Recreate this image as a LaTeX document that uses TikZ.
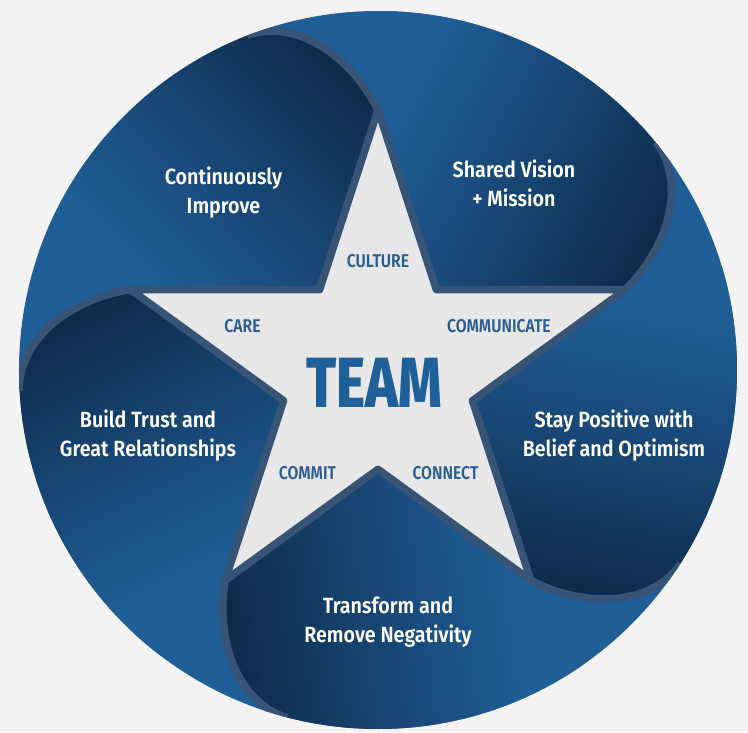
\documentclass[tikz,border=0pt]{standalone}
\usepackage{fontspec}
\setmainfont{Fira Sans}
\newfontfamily\labfont{Fira Sans}[UprightFont=* SemiBold, FakeStretch=0.895]
\newfontfamily\capfont{Fira Sans}[UprightFont=* SemiBold, FakeStretch=0.85]
\newfontfamily\teamfont{Fira Sans}[UprightFont=* ExtraBold, FakeStretch=0.78]
\definecolor{bgray}{HTML}{F3F3F3}
\definecolor{baseblue}{HTML}{1F5E96}
\definecolor{darkblue}{HTML}{0C2440}
\definecolor{midblue}{HTML}{16426E}
\definecolor{slate}{HTML}{375477}
\definecolor{starfill}{HTML}{E8E8E8}
\definecolor{startext}{HTML}{2A5D93}
\definecolor{teamblue}{HTML}{1F5F9A}
\pgfdeclareverticalshading{flapshade}{100bp}{color(0bp)=(darkblue); color(25bp)=(darkblue); color(45bp)=(midblue); color(65bp)=(baseblue); color(100bp)=(baseblue)}
\tikzset{
  flaplabel/.style={text=white, align=center, font=\labfont\fontsize{22}{29}\selectfont},
  starlabel/.style={text=startext, font=\capfont\fontsize{18.5}{20}\selectfont},
  band/.style={draw=slate, line width=7.5pt},
}
\begin{document}
\begin{tikzpicture}[x=1pt,y=1pt]
\useasboundingbox (-378,-362) rectangle (370,370);
\fill[bgray] (-378,-362) rectangle (370,370);
\fill[baseblue] (0,0) circle[radius=359];
% shaded flaps
\foreach \k in {0,...,4} {
  \pgfmathsetmacro\a{90+72*\k}
  \pgfmathsetmacro\sa{134+72*\k}
  \begin{scope}
    \clip (\a:260) .. controls (\a+4.69:312) and (\a+12.6:360.7) .. (\a+21.36:359.5)
      arc[start angle=\a+21.36, end angle=\a+93.36, radius=359.5]
      .. controls (\a+84.6:360.7) and (\a+76.69:312) .. (\a+72:260) -- (\a+36:99.3) -- cycle;
    \clip (0,0) circle[radius=359];
    \shade[shading=flapshade, shading angle=\sa] (\a+40:230) circle[radius=200];
  \end{scope}
}
% curl bands
\begin{scope}
  \clip (0,0) circle[radius=359];
  \foreach \k in {0,...,4} {
    \pgfmathsetmacro\a{90+72*\k}
    \path[band] (\a:260) .. controls (\a+4.69:312) and (\a+12.6:360.7) .. (\a+21.36:359.5);
  }
\end{scope}
% star
\path[draw=slate, line width=7.5pt, fill=starfill, line join=round]
  (90:260) -- (126:99.3) -- (162:260) -- (198:99.3) -- (234:260) -- (270:99.3)
  -- (306:260) -- (342:99.3) -- (18:260) -- (54:99.3) -- cycle;
% labels
\node[flaplabel] (ci) at (-154.5,177) {Continuously\\Improve};
\node[flaplabel] (sv) at (136,187) {Shared Vision\\+ Mission};
\node[flaplabel] (sp) at (236,-66) {Stay Positive with\\Belief and Optimism};
\node[flaplabel] (tr) at (10,-252) {Transform and\\Remove Negativity};
\node[flaplabel] (bt) at (-230,-66) {Build Trust and\\Great Relationships};
\node[starlabel] (cu) at (0,109) {CULTURE};
\node[starlabel] (cm) at (121,44) {COMMUNICATE};
\node[starlabel] (ca) at (-135.5,44) {CARE};
\node[starlabel] (co) at (-70.5,-103.5) {COMMIT};
\node[starlabel] (cn) at (67.5,-103.5) {CONNECT};
\node[text=teamblue, font=\teamfont\fontsize{71}{71}\selectfont] (team) at (-4,-12.5) {TEAM};
\end{tikzpicture}
\end{document}
